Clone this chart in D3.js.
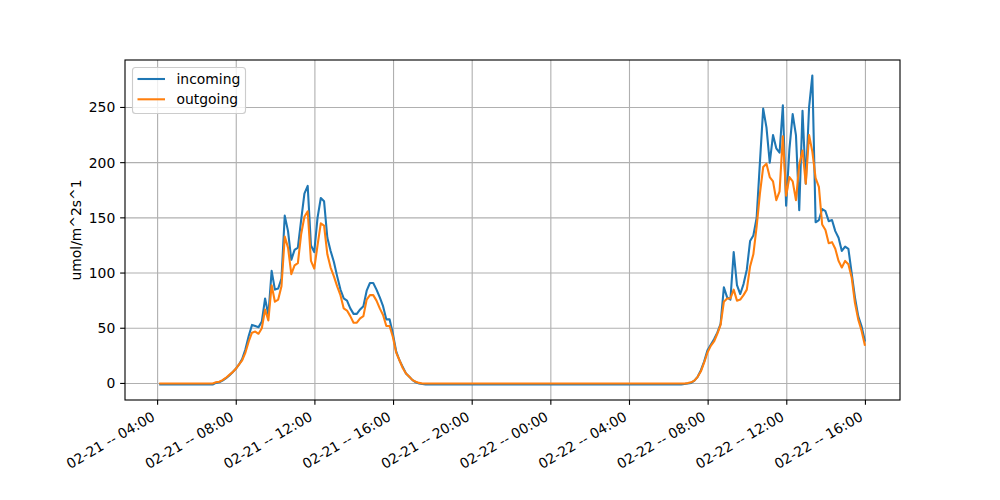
<!DOCTYPE html>
<html><head><meta charset="utf-8">
<script src="https://cdn.jsdelivr.net/npm/d3@7"></script>
<style>body{margin:0;background:#fff} svg{display:block} text{font-family:"DejaVu Sans",sans-serif;fill:#000}</style>
</head><body><svg id="c" width="1000" height="500"></svg>
<script>
// ---- data ----
const seriesNames = ["incoming", "outgoing"];
const seriesColors = ["#1f77b4", "#ff7f0e"];
const startTime = Date.UTC(2023, 1, 21, 4, 8);   // 02-21 04:08
const stepMinutes = 10;
const incoming = [
  -1,-1,-1,-1,-1,-1,-1,-1,-1,-1,-1,-1,
  -1,-1,-1,-1,-1,0.5,1,2.5,4.5,7,10,13,
  17,22,31,43,53,52,51,56,77,62,102,85,
  86,95,152,138,112,121,123,148,172,179,125,119,
  150,168,165,132,120,110,97,85,77,75,68,63,
  63,67,70,84,91,91,85,78,70,58,58,45,
  29,21,15,9,6,3,1,0,-0.5,-1,-1,-1,
  -1,-1,-1,-1,-1,-1,-1,-1,-1,-1,-1,-1,
  -1,-1,-1,-1,-1,-1,-1,-1,-1,-1,-1,-1,
  -1,-1,-1,-1,-1,-1,-1,-1,-1,-1,-1,-1,
  -1,-1,-1,-1,-1,-1,-1,-1,-1,-1,-1,-1,
  -1,-1,-1,-1,-1,-1,-1,-1,-1,-1,-1,-1,
  -1,-1,-1,-1,-1,-1,-1,-1,-1,-1,-1,-1,
  -1,-1,-1,-1,-0.5,0,0.5,2.5,6,12,20,30,
  35,40,46,54,87,78,76,119,89,81,90,103,
  129,134,150,200,249,232,200,225,213,209,252,161,
  212,244,225,157,247,181,250,279,146,148,158,156,
  147,148,138,132,120,124,122,100,78,61,52,39
];
const outgoing = [
  0,0,0,0,0,0,0,0,0,0,0,0,
  0,0,0,0,0,1,1.5,3,5,7.5,10,13,
  17,21,28,38,46,47,45,50,67,57,89,74,
  76,88,133,123,99,107,109,135,151,156,111,104,
  125,145,143,117,105,97,88,80,68,66,61,55,
  55,59,61,76,80,80,75,68,62,52,52,42,
  28,21,14,9,6,3,1.5,0.5,0,0,0,0,
  0,0,0,0,0,0,0,0,0,0,0,0,
  0,0,0,0,0,0,0,0,0,0,0,0,
  0,0,0,0,0,0,0,0,0,0,0,0,
  0,0,0,0,0,0,0,0,0,0,0,0,
  0,0,0,0,0,0,0,0,0,0,0,0,
  0,0,0,0,0,0,0,0,0,0,0,0,
  0,0,0,0,0,0.3,1,2.5,6,11,19,28,
  34,38,45,53,74,77,77,85,75,76,80,85,
  106,117,142,172,196,199,187,183,166,174,224,170,
  187,183,166,198,211,181,225,210,186,178,144,139,
  127,128,122,111,105,111,108,96,73,58,48,35
];
const xTickEveryHours = 4;
const yTicks = [0, 50, 100, 150, 200, 250];
const yLabel = "umol/m^2s^1";

// ---- layout ----
const L = 125, R = 900, T = 60, B = 400;
const FS = 13.9;
const PT = 100 / 72;          // one point in px
const LW = 1.5 * PT, AW = 0.8 * PT, TL = 3.5 * PT;
const svg = d3.select("#c");

const times = incoming.map((_, i) => new Date(startTime + i * stepMinutes * 60000));
const series = [incoming, outgoing];

const tExt = d3.extent(times);
const tPad = (tExt[1] - tExt[0]) * 0.05;
const x = d3.scaleUtc().domain([new Date(+tExt[0] - tPad), new Date(+tExt[1] + tPad)]).range([L, R]);
const allV = incoming.concat(outgoing);
const vMin = d3.min(allV), vMax = d3.max(allV);
const vPad = (vMax - vMin) * 0.05;
const y = d3.scaleLinear().domain([vMin - vPad, vMax + vPad]).range([B, T]);

const xTicks = x.ticks(d3.utcHour.every(xTickEveryHours));
const fmt = d3.utcFormat("%m-%d -- %H:%M");

// grid
const g = svg.append("g");
g.selectAll(".gx").data(xTicks).enter().append("line")
  .attr("x1", d => x(d)).attr("x2", d => x(d)).attr("y1", T).attr("y2", B)
  .attr("stroke", "#b0b0b0").attr("stroke-width", AW);
g.selectAll(".gy").data(yTicks).enter().append("line")
  .attr("x1", L).attr("x2", R).attr("y1", d => y(d)).attr("y2", d => y(d))
  .attr("stroke", "#b0b0b0").attr("stroke-width", AW);

// lines
const line = d3.line().x((d, i) => x(times[i])).y(d => y(d));
series.forEach((s, k) => {
  svg.append("path").datum(s).attr("d", line)
    .attr("fill", "none").attr("stroke", seriesColors[k]).attr("stroke-width", LW)
    .attr("stroke-linejoin", "round").attr("stroke-linecap", "square");
});

// frame
svg.append("rect").attr("x", L).attr("y", T).attr("width", R - L).attr("height", B - T)
  .attr("fill", "none").attr("stroke", "#000").attr("stroke-width", AW);

// x ticks
svg.selectAll(".tx").data(xTicks).enter().append("line")
  .attr("x1", d => x(d)).attr("x2", d => x(d)).attr("y1", B).attr("y2", B + TL)
  .attr("stroke", "#000").attr("stroke-width", AW);
svg.selectAll(".lx").data(xTicks).enter().append("text")
  .attr("transform", d => `translate(${x(d) - 1.6},419.5) rotate(-30)`)
  .attr("text-anchor", "end").attr("font-size", FS).text(d => fmt(d));

// y ticks
svg.selectAll(".ty").data(yTicks).enter().append("line")
  .attr("x1", L - TL).attr("x2", L).attr("y1", d => y(d)).attr("y2", d => y(d))
  .attr("stroke", "#000").attr("stroke-width", AW);
svg.selectAll(".ly").data(yTicks).enter().append("text")
  .attr("x", L - 2 * TL).attr("y", d => y(d)).attr("dy", "0.36em")
  .attr("text-anchor", "end").attr("font-size", FS).text(d => d);

// y label
svg.append("text").attr("transform", `translate(81,${(T + B) / 2}) rotate(-90)`)
  .attr("text-anchor", "middle").attr("font-size", FS).text(yLabel);

// legend
const lg = svg.append("g");
lg.append("rect").attr("x", 132.5).attr("y", 67.5).attr("width", 113).attr("height", 46)
  .attr("rx", 3).attr("fill", "#fff").attr("fill-opacity", 0.8)
  .attr("stroke", "#cccccc").attr("stroke-width", AW);
seriesNames.forEach((n, k) => {
  const cy = 79 + k * 20.3;
  lg.append("line").attr("x1", 137.5).attr("x2", 165).attr("y1", cy).attr("y2", cy)
    .attr("stroke", seriesColors[k]).attr("stroke-width", LW);
  lg.append("text").attr("x", 176.5).attr("y", cy).attr("dy", "0.36em")
    .attr("font-size", FS).text(n);
});
</script>
</body></html>
